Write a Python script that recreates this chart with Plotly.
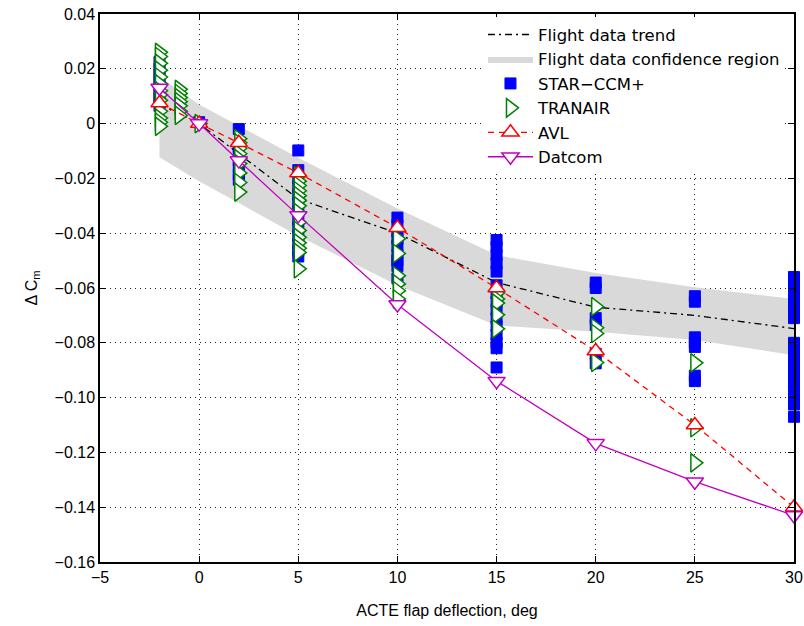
import plotly.graph_objects as go

# ---------------- data ----------------
trend_x = [-2, 0, 5, 10, 15, 20, 25, 30]
trend_y = [0.007, 0.0, -0.0275, -0.040, -0.058, -0.067, -0.070, -0.0748]

conf_x = [-2, 0, 5, 10, 15, 20, 25, 30]
conf_upper = [0.017, 0.007, -0.0125, -0.031, -0.048, -0.0545, -0.0597, -0.064]
conf_lower = [-0.0123, -0.021, -0.041, -0.059, -0.0737, -0.076, -0.079, -0.0845]

star_x = ([-2] * 9 + [0] + [2] * 7 + [5] * 13 + [10] * 9 + [15] * 15
          + [20] * 6 + [25] * 7 + [30] * 16)
star_y = [
    0.0225, 0.020, 0.018, 0.016, 0.014, 0.012, 0.010, 0.008, 0.0065,
    0.0005,
    -0.002, -0.0085, -0.011, -0.0135, -0.016, -0.0185, -0.0205,
    -0.0098, -0.017, -0.020, -0.023, -0.026, -0.029, -0.032, -0.035, -0.038,
    -0.041, -0.044, -0.0465, -0.0485,
    -0.0343, -0.037, -0.0395, -0.042, -0.0445, -0.048, -0.050, -0.052, -0.0565,
    -0.0425, -0.045, -0.048, -0.051, -0.054, -0.059, -0.062, -0.065, -0.068,
    -0.071, -0.074, -0.077, -0.080, -0.082, -0.089,
    -0.058, -0.060, -0.071, -0.0735, -0.084, -0.0875,
    -0.063, -0.065, -0.078, -0.080, -0.0815, -0.092, -0.094,
    -0.056, -0.059, -0.062, -0.065, -0.068, -0.071, -0.080, -0.083, -0.086,
    -0.089, -0.092, -0.095, -0.098, -0.1005, -0.1025, -0.107,
]

tranair_x = ([-2] * 13 + [-1] * 7 + [0] + [2] * 9 + [5] * 15 + [10] * 6
             + [15] * 5 + [20] * 4 + [25] * 3)
tranair_y = [
    0.026, 0.0245, 0.022, 0.0195, 0.017, 0.0145, 0.012, 0.0105, 0.0085,
    0.0045, 0.002, 0.0005, -0.001,
    0.0125, 0.011, 0.0095, 0.008, 0.0065, 0.0045, 0.003,
    0.0,
    -0.0055, -0.007, -0.009, -0.011, -0.0128, -0.0146, -0.018, -0.0215, -0.025,
    -0.019, -0.021, -0.0226, -0.0245, -0.0263, -0.028, -0.030, -0.0325, -0.036,
    -0.039, -0.0415, -0.0435, -0.0455, -0.047, -0.053,
    -0.042, -0.0474, -0.0555, -0.0585, -0.061, -0.064,
    -0.0618, -0.064, -0.0655, -0.0698, -0.0749,
    -0.0668, -0.0745, -0.0766, -0.0872,
    -0.0873, -0.111, -0.1238,
]

avl_x = [-2, 0, 2, 5, 10, 15, 20, 25, 30]
avl_y = [0.0075, 0.0, -0.007, -0.018, -0.038, -0.060, -0.083, -0.110, -0.140]

datcom_x = [-2, 0, 2, 5, 10, 15, 20, 25, 30]
datcom_y = [0.013, 0.0, -0.0135, -0.0335, -0.066, -0.094, -0.1167, -0.1307, -0.143]

x_ticks = [-5, 0, 5, 10, 15, 20, 25, 30]
y_ticks = [0.04, 0.02, 0, -0.02, -0.04, -0.06, -0.08, -0.10, -0.12, -0.14, -0.16]
y_ticklabels = ["0.04", "0.02", "0", "−0.02", "−0.04", "−0.06", "−0.08",
                "−0.10", "−0.12", "−0.14", "−0.16"]
x_ticklabels = ["−5", "0", "5", "10", "15", "20", "25", "30"]

# ---------------- figure ----------------
FONT = "Liberation Sans, Arial, Helvetica, sans-serif"
LEGEND_FONT = "DejaVu Sans, Liberation Sans, sans-serif"
fig = go.Figure()

fig.add_trace(go.Scatter(
    x=conf_x + conf_x[::-1], y=conf_upper + conf_lower[::-1],
    fill="toself", fillcolor="#D9D9D9", line=dict(width=0, color="#D9D9D9"),
    mode="lines", name="Flight data confidence region", hoverinfo="skip",
    legendrank=2,
))
fig.add_trace(go.Scatter(
    x=trend_x, y=trend_y, mode="lines", name="Flight data trend",
    line=dict(color="black", width=1.3, dash="7px,4px,2px,4px"),
    legendrank=1,
))
fig.add_trace(go.Scatter(
    x=star_x, y=star_y, mode="markers", name="STAR−CCM+",
    marker=dict(symbol="square", size=11, color="#0000FF",
                line=dict(color="#0000FF", width=1)),
    cliponaxis=False, legendrank=3,
))
fig.add_trace(go.Scatter(
    x=tranair_x, y=tranair_y, mode="markers", name="TRANAIR",
    marker=dict(symbol="triangle-right", size=16, color="white",
                line=dict(color="#008000", width=1.5)),
    cliponaxis=False, legendrank=4,
))
fig.add_trace(go.Scatter(
    x=avl_x, y=avl_y, mode="lines+markers", name="AVL",
    line=dict(color="#FF0000", width=1.3, dash="6px,5px"),
    marker=dict(symbol="triangle-up", size=15, color="white",
                line=dict(color="#FF0000", width=1.5)),
    cliponaxis=False, legendrank=5,
))
fig.add_trace(go.Scatter(
    x=datcom_x, y=datcom_y, mode="lines+markers", name="Datcom",
    line=dict(color="#C000C0", width=1.3),
    marker=dict(symbol="triangle-down", size=15, color="white",
                line=dict(color="#C000C0", width=1.5)),
    cliponaxis=False, legendrank=6,
))

axis_common = dict(
    showline=True, linecolor="black", linewidth=1.5, mirror="ticks",
    ticks="inside", ticklen=6, tickcolor="black", tickwidth=1,
    showgrid=True, gridcolor="#222222", gridwidth=1, griddash="1px,4px",
    zeroline=False, automargin=False,
    tickfont=dict(family=FONT, size=16, color="black"),
)

fig.update_layout(
    width=804, height=626,
    margin=dict(l=100, r=10, t=14, b=64),
    paper_bgcolor="white", plot_bgcolor="white",
    font=dict(family=FONT, size=16, color="black"),
    showlegend=True,
    legend=dict(
        x=0.987, y=0.994, xanchor="right", yanchor="top",
        bgcolor="white", bordercolor="white", borderwidth=0,
        font=dict(family=LEGEND_FONT, size=16.5, color="black"),
        itemwidth=45, traceorder="normal",
    ),
    xaxis=dict(
        range=[-5, 30], tickmode="array", tickvals=x_ticks,
        ticktext=x_ticklabels,
        title=dict(text="ACTE flap deflection, deg", standoff=20,
                   font=dict(family=FONT, size=16)),
        **axis_common,
    ),
    yaxis=dict(
        range=[-0.16, 0.04], tickmode="array", tickvals=y_ticks,
        ticktext=y_ticklabels,
        title=dict(text="Δ C<sub>m</sub>", standoff=13,
                   font=dict(family=FONT, size=16)),
        **axis_common,
    ),
)

fig.write_html("out.html",
               config={"displayModeBar": False},
               post_script="document.body.style.margin='0px';"
                           "document.body.style.padding='0px';")
